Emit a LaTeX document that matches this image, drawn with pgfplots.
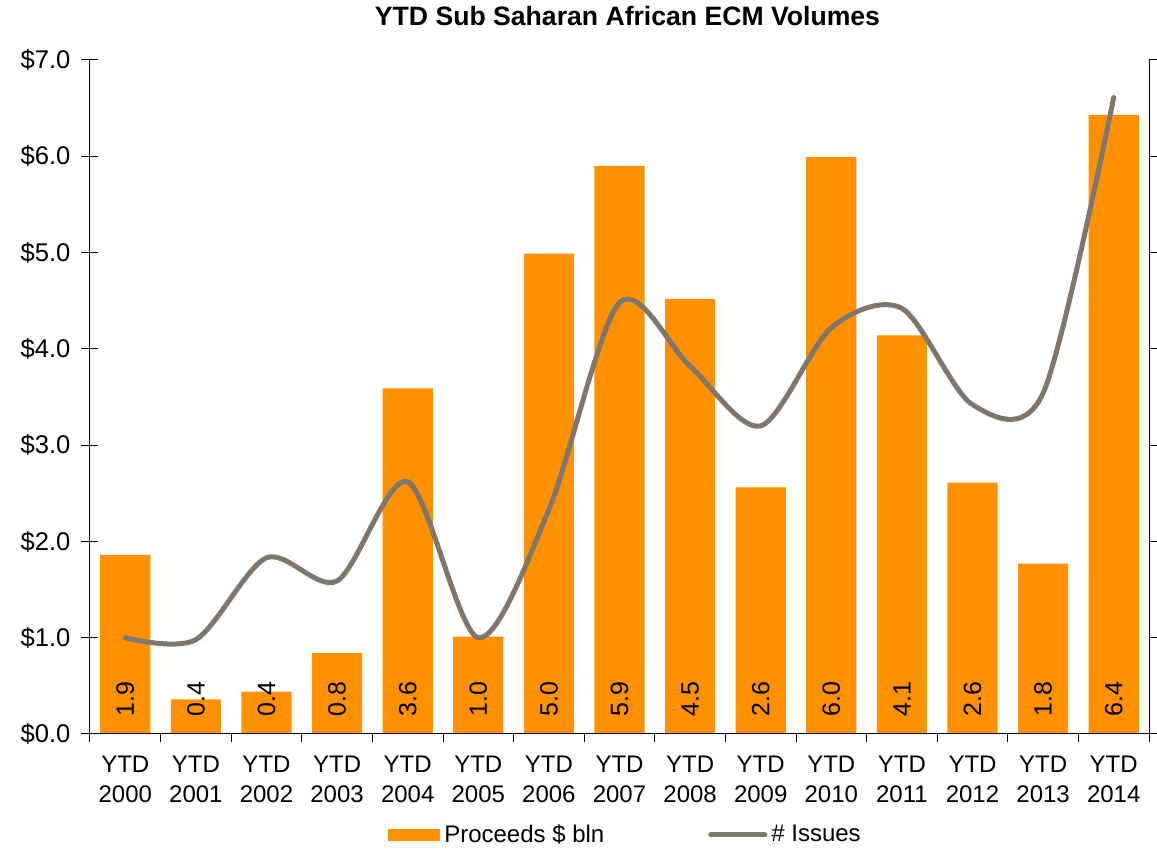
\documentclass[border=0pt]{standalone}
\usepackage{fontspec}
\setmainfont{Liberation Sans}
\usepackage{pgfplots}
\pgfplotsset{compat=1.18}
\usepackage{pgfplotstable}
\definecolor{barorange}{RGB}{255,145,0}
\definecolor{linegray}{RGB}{128,118,108}
\pgfplotstableread{
x p iss ly
0 1.86 1.00 0.18
1 0.36 0.98 0.18
2 0.44 1.83 0.18
3 0.84 1.59 0.18
4 3.59 2.62 0.18
5 1.01 1.00 0.18
6 4.99 2.33 0.18
7 5.90 4.48 0.18
8 4.52 3.82 0.18
9 2.56 3.20 0.18
10 5.99 4.22 0.18
11 4.14 4.42 0.18
12 2.61 3.42 0.18
13 1.77 3.54 0.18
14 6.43 6.61 0.18
}\data
\begin{document}
\begin{tikzpicture}[font=\fontsize{11.8}{14}\selectfont]
\begin{axis}[name=main, scale only axis, width=529.5pt, height=337pt,
  xmin=-0.5, xmax=14.5, ymin=0, ymax=7,
  axis x line*=bottom, axis y line*=left,
  axis line style={black, line width=0.5pt},
  tick align=center, major tick length=8.5pt,
  xtick={0,...,14},
  xticklabels={YTD\\2000,YTD\\2001,YTD\\2002,YTD\\2003,YTD\\2004,YTD\\2005,YTD\\2006,YTD\\2007,YTD\\2008,YTD\\2009,YTD\\2010,YTD\\2011,YTD\\2012,YTD\\2013,YTD\\2014},
  xticklabel style={align=center, yshift=-3pt, font=\fontsize{12}{15}\selectfont},
  xtick style={draw=none},
  ytick={0,...,7},
  yticklabels={\$0.0,\$1.0,\$2.0,\$3.0,\$4.0,\$5.0,\$6.0,\$7.0},
  yticklabel style={font=\fontsize{12.8}{15}\selectfont, xshift=-2pt},
  ytick style={black, line width=0.5pt},
  title={YTD Sub Saharan African ECM Volumes},
  title style={font=\bfseries\fontsize{13.3}{16}\selectfont, at={(0.5,1)}, anchor=center, yshift=16pt, xshift=4pt},
  legend style={at={(0.5,0)}, anchor=center, yshift=-50.5pt, xshift=3.5pt, draw=none, fill=none,
    font=\fontsize{12}{14}\selectfont,
    legend columns=2, /tikz/every even column/.append style={column sep=50pt}},
  legend cell align=left,
  /pgf/number format/assume math mode=true,
]
\addplot[ybar, bar width=0.71, fill=barorange, draw=none,
  legend image code/.code={\fill[barorange] (0pt,-3pt) rectangle (26pt,3pt);}]
  table[x=x, y=p]{\data};
\addlegendentry{Proceeds \$ bln}
\addplot[linegray, line width=2.5pt, smooth, tension=0.5, line cap=round,
  legend image code/.code={\draw[linegray, line width=2.5pt, line cap=round] (0pt,0pt) -- (27pt,0pt);}]
  table[x=x, y=iss]{\data};
\addlegendentry{\# Issues}
\addplot[draw=none, mark=none, forget plot, point meta=explicit,
  nodes near coords={\pgfmathprintnumber[fixed, fixed zerofill, precision=1]{\pgfplotspointmeta}},
  every node near coord/.style={rotate=90, anchor=west, inner sep=0pt, black, font=\fontsize{12.5}{14}\selectfont}]
  table[x=x, y=ly, meta=p]{\data};
\end{axis}
\begin{axis}[scale only axis, width=529.5pt, height=337pt,
  xmin=-0.5, xmax=14.5, ymin=0, ymax=7,
  axis x line*=bottom, axis y line*=right,
  axis line style={black, line width=0.5pt},
  tick align=outside, major tick length=4pt,
  xtick={-0.5,0.5,...,14.5}, xticklabels={},
  ytick={0,...,7}, yticklabels={},
  tick style={black, line width=0.5pt},
]
\end{axis}
\pgfresetboundingbox
\path[use as bounding box] ([xshift=-45pt,yshift=-59pt]main.south west) rectangle ([xshift=4pt,yshift=30pt]main.north east);
\end{tikzpicture}
\end{document}
